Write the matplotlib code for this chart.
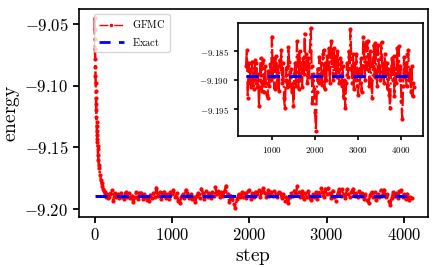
import matplotlib
matplotlib.use("Agg")
import matplotlib.pyplot as plt
from matplotlib.ticker import FuncFormatter, FixedLocator

plt.rcParams['mathtext.fontset'] = 'cm'
plt.rcParams['font.family'] = 'serif'
plt.rcParams['font.serif'] = ['DejaVu Serif']

# initial equilibration (main-plot steps)
decay_steps = [0, 2, 4, 6, 8, 10, 12, 14, 16, 18, 20, 22, 24, 26, 28, 30, 32, 34, 36, 38, 40,
               45, 50, 55, 60, 70, 80, 90, 100, 110, 120, 130, 140, 150, 160, 170, 180, 190]
decay_energy = [-9.0455, -9.054, -9.062, -9.070, -9.078, -9.085, -9.092, -9.098, -9.104, -9.110,
                -9.115, -9.120, -9.125, -9.129, -9.133, -9.137, -9.140, -9.143, -9.146, -9.149,
                -9.151, -9.156, -9.160, -9.164, -9.167, -9.172, -9.176, -9.179, -9.181, -9.1835,
                -9.1850, -9.1880, -9.1865, -9.1900, -9.1880, -9.1912, -9.1885, -9.1905]

# fluctuating tail, sampled every 20 steps from step 200 to 4100
tail_start = 200
tail_stride = 20
tail_energy = [
    -9.1875, -9.1848, -9.1930, -9.1870, -9.1905,
    -9.1880, -9.1912, -9.1868, -9.1900, -9.1915,
    -9.1865, -9.1905, -9.1870, -9.1912, -9.1890,
    -9.1945, -9.1900, -9.1862, -9.1918, -9.1870,
    -9.1866, -9.1920, -9.1875, -9.1905, -9.1925,
    -9.1930, -9.1885, -9.1910, -9.1872, -9.1900,
    -9.1825, -9.1895, -9.1862, -9.1915, -9.1870,
    -9.1858, -9.1912, -9.1875, -9.1918, -9.1865,
    -9.1880, -9.1848, -9.1905, -9.1870, -9.1930,
    -9.1948, -9.1900, -9.1878, -9.1912, -9.1843,
    -9.1868, -9.1910, -9.1880, -9.1920, -9.1905,
    -9.1945, -9.1890, -9.1870, -9.1910, -9.1833,
    -9.1870, -9.1915, -9.1850, -9.1900, -9.1870,
    -9.1912, -9.1862, -9.1890, -9.1820, -9.1880,
    -9.1855, -9.1905, -9.1862, -9.1895, -9.1850,
    -9.1810, -9.1875, -9.1940, -9.1890, -9.1915,
    -9.1955, -9.1987, -9.1920, -9.1880, -9.1905,
    -9.1860, -9.1900, -9.1870, -9.1908, -9.1855,
    -9.1848, -9.1915, -9.1870, -9.1900, -9.1858,
    -9.1880, -9.1845, -9.1905, -9.1860, -9.1832,
    -9.1870, -9.1900, -9.1845, -9.1890, -9.1858,
    -9.1895, -9.1850, -9.1880, -9.1905, -9.1862,
    -9.1868, -9.1910, -9.1875, -9.1930, -9.1900,
    -9.1948, -9.1905, -9.1870, -9.1895, -9.1850,
    -9.1880, -9.1812, -9.1862, -9.1905, -9.1855,
    -9.1915, -9.1870, -9.1900, -9.1855, -9.1910,
    -9.1925, -9.1880, -9.1905, -9.1862, -9.1920,
    -9.1875, -9.1826, -9.1860, -9.1900, -9.1835,
    -9.1880, -9.1832, -9.1870, -9.1910, -9.1850,
    -9.1900, -9.1930, -9.1875, -9.1840, -9.1895,
    -9.1836, -9.1885, -9.1910, -9.1840, -9.1875,
    -9.1900, -9.1860, -9.1835, -9.1895, -9.1870,
    -9.1905, -9.1855, -9.1890, -9.1870, -9.1915,
    -9.1880, -9.1925, -9.1948, -9.1885, -9.1862,
    -9.1900, -9.1858, -9.1928, -9.1880, -9.1905,
    -9.1845, -9.1890, -9.1842, -9.1900, -9.1875,
    -9.1935, -9.1966, -9.1910, -9.1860, -9.1895,
    -9.1870, -9.1910, -9.1855, -9.1848, -9.1900,
    -9.1880, -9.1920, -9.1875, -9.1928, -9.1905,
    -9.1912,
]
tail_steps = [tail_start + tail_stride * i for i in range(len(tail_energy))]

steps = decay_steps + tail_steps
energy = decay_energy + tail_energy

exact_energy = -9.1893
inset_offset = 200  # inset x-axis is shifted relative to main plot

main_xticks = [0, 1000, 2000, 3000, 4000]
main_yticks = [-9.20, -9.15, -9.10, -9.05]
inset_xticks = [1000, 2000, 3000, 4000]
inset_yticks = [-9.195, -9.190, -9.185]

fig = plt.figure(figsize=(4.36, 2.67), dpi=100)
ax = fig.add_axes([0.1805, 0.1873, 0.8005, 0.7790])

ax.plot(steps, energy, color='red', linestyle='-.', marker='.', markersize=4,
        linewidth=1.8, label=r'$\mathrm{GFMC}$', zorder=2)
ax.plot([steps[0], steps[-1]], [exact_energy, exact_energy], color='blue',
        linestyle='--', linewidth=2.2, dashes=(4, 3), label=r'$\mathrm{Exact}$', zorder=3)

ax.xaxis.set_major_locator(FixedLocator(main_xticks))
ax.yaxis.set_major_locator(FixedLocator(main_yticks))
ax.xaxis.set_major_formatter(FuncFormatter(lambda v, p: r'$%d$' % v))
ax.yaxis.set_major_formatter(FuncFormatter(lambda v, p: r'$%.2f$' % v))
ax.tick_params(labelsize=12, width=1.3, length=4)
for s in ax.spines.values():
    s.set_linewidth(1.2)
ax.set_xlabel(r'$\mathrm{step}$', fontsize=14, labelpad=1)
ax.set_ylabel(r'$\mathrm{energy}$', fontsize=14, labelpad=2)

leg = ax.legend(loc='upper left', bbox_to_anchor=(0.045, 0.975), fontsize=7.5,
                handlelength=2.4, borderaxespad=0.0, framealpha=0.8,
                edgecolor='#cccccc', fancybox=True)
leg_lines = leg.get_lines()
leg_lines[0].set_linewidth(1.0)
leg_lines[0].set_markersize(3)
leg_lines[1].set_linewidth(2.0)

# inset
axi = fig.add_axes([0.545, 0.491, 0.4245, 0.424])
inset_steps = [s + inset_offset for s, e in zip(steps, energy) if s >= tail_start]
inset_energy = [e for s, e in zip(steps, energy) if s >= tail_start]
axi.plot(inset_steps, inset_energy, color='red', linestyle='-.', marker='.',
         markersize=4, linewidth=1.6, zorder=2)
axi.plot([inset_steps[0], inset_steps[-1]], [exact_energy, exact_energy], color='blue',
         linestyle='--', linewidth=2.2, dashes=(4, 3), zorder=3)
axi.xaxis.set_major_locator(FixedLocator(inset_xticks))
axi.yaxis.set_major_locator(FixedLocator(inset_yticks))
axi.xaxis.set_major_formatter(FuncFormatter(lambda v, p: r'$%d$' % v))
axi.yaxis.set_major_formatter(FuncFormatter(lambda v, p: r'$%.3f$' % v))
axi.tick_params(labelsize=6.5, width=1.2, length=3)
for s in axi.spines.values():
    s.set_linewidth(1.2)

fig.savefig('out.png', dpi=100)
